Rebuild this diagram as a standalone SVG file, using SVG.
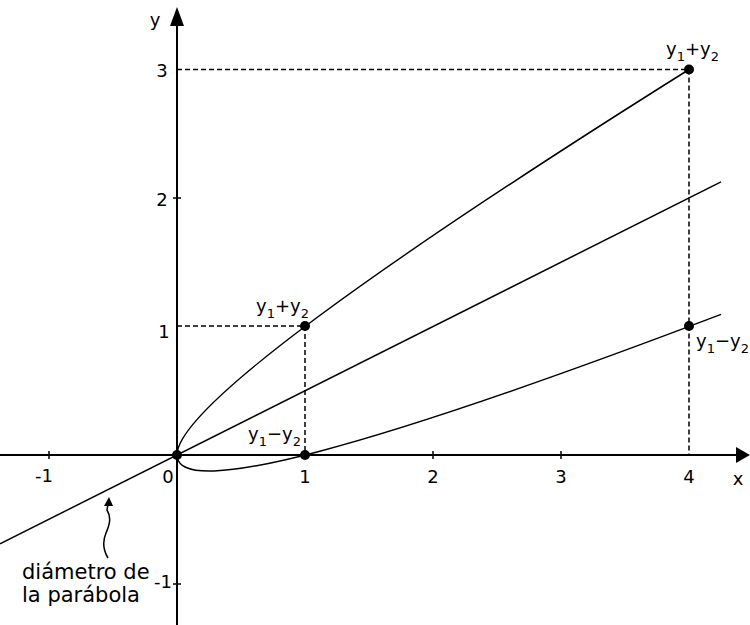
<svg xmlns="http://www.w3.org/2000/svg" width="750" height="625" viewBox="0 0 750 625">
<style>
.ax{stroke:#000;stroke-width:2;fill:none}
.cv{stroke:#000;stroke-width:1.5;fill:none}
.ds{stroke:#000;stroke-width:1.5;fill:none;stroke-dasharray:5 3}
.tk{stroke:#000;stroke-width:1.5}
text{font-family:"DejaVu Sans",sans-serif;font-size:18px;fill:#000}
.n{text-anchor:middle}
.sub{font-size:13px}
.lb{font-size:21px}
</style>
<rect width="750" height="625" fill="#fff"/>
<g id="axes">
<line class="ax" x1="0" y1="455" x2="740" y2="455"/>
<polygon points="750,455 736,447 736,463" fill="#000"/>
<line class="ax" x1="177" y1="625" x2="177" y2="20"/>
<polygon points="177,7 170,26 184,26" fill="#000"/>
<line class="tk" x1="49" y1="451" x2="49" y2="459"/>
<line class="tk" x1="433" y1="451" x2="433" y2="459"/>
<line class="tk" x1="561" y1="451" x2="561" y2="459"/>
<line class="tk" x1="173" y1="198" x2="181" y2="198"/>
<line class="tk" x1="173" y1="584" x2="181" y2="584"/>
</g>
<g id="connectors">
<path class="ds" d="M177,69.5 H689 V455"/>
<path class="ds" d="M177,326 H305 V455"/>
<line class="cv" x1="0" y1="543.8" x2="721" y2="181.9"/>
<path class="cv" d="M721,314.4 Q-350.8,721.9 689,69.5"/>
<path class="cv" d="M108,558 C102,548 103,540 106,533 S112,518 107,510 L108,504"/>
<polygon points="109,497 104,506 113,506" fill="#000"/>
</g>
<g id="points">
<circle cx="177" cy="455" r="5"/>
<circle cx="305" cy="326" r="5"/>
<circle cx="305" cy="455" r="5"/>
<circle cx="689" cy="69.5" r="5"/>
<circle cx="689" cy="326" r="5"/>
</g>
<g id="labels">
<text x="155" y="26" class="n">y</text>
<text x="738" y="485" class="n">x</text>
<text x="44" y="482" class="n">-1</text>
<text x="168" y="483" class="n">0</text>
<text x="305" y="483" class="n">1</text>
<text x="433" y="483" class="n">2</text>
<text x="561" y="483" class="n">3</text>
<text x="689" y="483" class="n">4</text>
<text x="164" y="338" class="n">1</text>
<text x="162" y="206" class="n">2</text>
<text x="162" y="77" class="n">3</text>
<text x="163" y="588" class="n">-1</text>
<text x="666" y="55">y<tspan class="sub" dy="6">1</tspan><tspan dy="-6">+y</tspan><tspan class="sub" dy="6">2</tspan></text>
<text x="256" y="312">y<tspan class="sub" dy="6">1</tspan><tspan dy="-6">+y</tspan><tspan class="sub" dy="6">2</tspan></text>
<text x="248" y="440">y<tspan class="sub" dy="6">1</tspan><tspan dy="-6">−y</tspan><tspan class="sub" dy="6">2</tspan></text>
<text x="696" y="347">y<tspan class="sub" dy="6">1</tspan><tspan dy="-6">−y</tspan><tspan class="sub" dy="6">2</tspan></text>
<text x="22" y="579" class="lb">diámetro de</text>
<text x="22" y="602" class="lb">la parábola</text>
</g>
</svg>
